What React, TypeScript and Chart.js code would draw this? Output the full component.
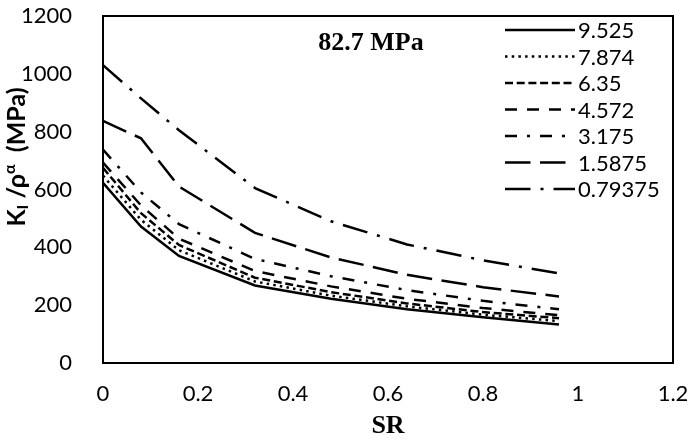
import { useEffect, useRef } from 'react';
import { Chart, registerables } from 'chart.js';

Chart.register(...registerables);

const srValues = [0, 0.08, 0.16, 0.32, 0.48, 0.64, 0.8, 0.96];
const seriesLabels = ['9.525', '7.874', '6.35', '4.572', '3.175', '1.5875', '0.79375'];
const s9525 = [623, 472, 370, 268, 222, 186, 158, 133];
const s7874 = [648, 495, 390, 282, 233, 196, 167, 145];
const s635 = [675, 518, 408, 295, 245, 206, 176, 155];
const s4572 = [693, 545, 430, 318, 265, 222, 190, 165];
const s3175 = [738, 590, 480, 360, 300, 252, 215, 186];
const s15875 = [837, 777, 610, 450, 365, 305, 262, 230];
const s079375 = [1030, 915, 805, 605, 490, 410, 355, 310];
const seriesValues = [s9525, s7874, s635, s4572, s3175, s15875, s079375];
const xTicks = [0, 0.2, 0.4, 0.6, 0.8, 1, 1.2];
const yTicks = [0, 200, 400, 600, 800, 1000, 1200];
const chartTitle = '82.7 MPa';
const xTitle = 'SR';

const dashes: number[][] = [
  [],
  [2.5, 4.2],
  [8, 3.7],
  [12, 10],
  [12, 10, 3, 10],
  [25.5, 9.5],
  [25.5, 10, 3, 10],
];

const LW = 2.5;
const TICK_FONT = 'Lato';

const decorPlugin = {
  id: 'decor',
  afterDraw(chart: any) {
    const { ctx, chartArea } = chart;
    const { left, top, right, bottom } = chartArea;
    ctx.save();
    // plot border
    ctx.strokeStyle = '#000';
    ctx.lineWidth = 2;
    ctx.setLineDash([]);
    ctx.strokeRect(left, top, right - left, bottom - top);

    // title
    ctx.fillStyle = '#000';
    ctx.font = 'bold 26px "Liberation Serif"';
    ctx.textAlign = 'center';
    ctx.textBaseline = 'alphabetic';
    ctx.fillText(chartTitle, 371, 50);

    // x title
    ctx.font = 'bold 26px "Liberation Serif"';
    ctx.textBaseline = 'middle';
    ctx.fillText(xTitle, (left + right) / 2, 426);

    // legend
    ctx.font = `22px ${TICK_FONT}`;
    ctx.textAlign = 'left';
    ctx.textBaseline = 'middle';
    seriesLabels.forEach((lab, i) => {
      const y = 30 + i * 26.5;
      ctx.beginPath();
      ctx.lineWidth = LW;
      ctx.lineCap = 'butt';
      ctx.setLineDash(dashes[i]);
      ctx.moveTo(505, y);
      ctx.lineTo(575, y);
      ctx.stroke();
      ctx.setLineDash([]);
      ctx.fillText(lab, 578, y + 1);
    });

    // y title with subscript / superscript
    ctx.translate(17, 157);
    ctx.rotate(-Math.PI / 2);
    const main = `bold 25px ${TICK_FONT}`;
    const small = `bold 16px ${TICK_FONT}`;
    const parts = [
      { t: 'K', f: main, dy: 0 },
      { t: 'I', f: small, dy: 6 },
      { t: ' /ρ', f: main, dy: 0 },
      { t: 'α', f: small, dy: -7 },
      { t: '  (MPa)', f: main, dy: 0 },
    ];
    let total = 0;
    parts.forEach((p) => {
      ctx.font = p.f;
      total += ctx.measureText(p.t).width;
    });
    let x = -total / 2;
    ctx.textAlign = 'left';
    ctx.textBaseline = 'middle';
    parts.forEach((p) => {
      ctx.font = p.f;
      ctx.fillText(p.t, x, p.dy);
      x += ctx.measureText(p.t).width;
    });
    ctx.restore();
  },
};

export default function App() {
  const ref = useRef<HTMLCanvasElement | null>(null);
  useEffect(() => {
    if (!ref.current) return;
    const chart = new Chart(ref.current, {
      type: 'line',
      data: {
        datasets: seriesValues.map((vals, i) => ({
          label: seriesLabels[i],
          data: srValues.map((x, j) => ({ x, y: vals[j] })),
          borderColor: '#000',
          backgroundColor: '#000',
          borderWidth: LW,
          borderDash: dashes[i],
          borderCapStyle: 'butt',
          pointRadius: 0,
          tension: 0,
          fill: false,
        })),
      },
      options: {
        animation: false,
        responsive: false,
        devicePixelRatio: 1,
        layout: { padding: { top: 16, right: 18, left: 0, bottom: 0 } },
        plugins: {
          legend: { display: false },
          tooltip: { enabled: false },
          title: { display: false },
        },
        scales: {
          x: {
            type: 'linear',
            min: 0,
            max: 1.2,
            grid: { display: false },
            border: { display: false },
            afterBuildTicks: (s: any) => {
              s.ticks = xTicks.map((v) => ({ value: v }));
            },
            ticks: {
              color: '#000',
              padding: 10,
              maxRotation: 0,
              font: { family: TICK_FONT, size: 22 },
              callback: (v: any) => String(Math.round(Number(v) * 10) / 10),
            },
            afterFit: (s: any) => {
              s.height = 82;
              s.paddingLeft = 0;
              s.paddingRight = 0;
            },
          },
          y: {
            min: 0,
            max: 1200,
            grid: { display: false },
            border: { display: false },
            afterBuildTicks: (s: any) => {
              s.ticks = yTicks.map((v) => ({ value: v }));
            },
            ticks: {
              color: '#000',
              padding: 23,
              font: { family: TICK_FONT, size: 22 },
              callback: (v: any) => String(v),
            },
            afterFit: (s: any) => {
              s.width = 103;
              s.paddingTop = 0;
              s.paddingBottom = 0;
            },
          },
        },
      } as any,
      plugins: [decorPlugin],
    });
    return () => chart.destroy();
  }, []);
  return (
    <div style={{ position: 'absolute', left: 0, top: 0, width: 691, height: 445, background: '#fff' }}>
      <canvas ref={ref} width={691} height={445} style={{ width: 691, height: 445 }} />
    </div>
  );
}
